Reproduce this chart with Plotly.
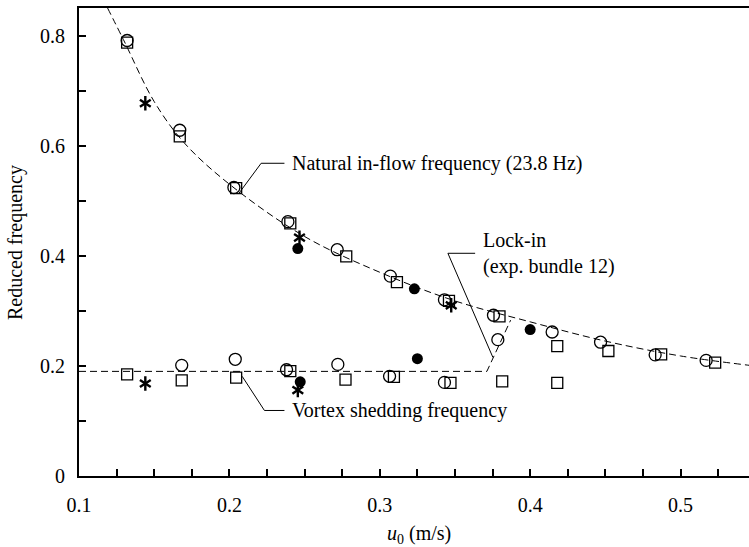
import plotly.graph_objects as go

# ---- data ----
circ_x = [0.132, 0.167, 0.203, 0.2389, 0.2717, 0.307, 0.343, 0.3756, 0.3785, 0.4146, 0.4468, 0.4831, 0.517,
          0.1683, 0.2039, 0.238, 0.2721, 0.3065, 0.343]
circ_y = [0.791, 0.628, 0.524, 0.462, 0.411, 0.363, 0.320, 0.292, 0.2476, 0.2615, 0.243, 0.220, 0.210,
          0.201, 0.212, 0.193, 0.2027, 0.181, 0.170]

sq_x = [0.132, 0.167, 0.2045, 0.2405, 0.2777, 0.3114, 0.346, 0.3796, 0.418, 0.452, 0.4871, 0.523,
        0.132, 0.1683, 0.2045, 0.2405, 0.2772, 0.3094, 0.347, 0.3814, 0.418]
sq_y = [0.787, 0.617, 0.523, 0.459, 0.399, 0.352, 0.318, 0.290, 0.236, 0.227, 0.221, 0.206,
        0.1845, 0.1736, 0.1785, 0.1906, 0.175, 0.180, 0.169, 0.172, 0.169]

fill_x = [0.2455, 0.2471, 0.323, 0.325, 0.400]
fill_y = [0.413, 0.171, 0.340, 0.213, 0.266]

ast_x = [0.1441, 0.1441, 0.2466, 0.2455, 0.3475]
ast_y = [0.677, 0.168, 0.433, 0.156, 0.310]

# natural in-flow frequency curve
nat_x = [0.119, 0.13, 0.15, 0.17, 0.20, 0.25, 0.30, 0.35, 0.40, 0.45, 0.50, 0.5458]
nat_y = [0.85, 0.79, 0.68, 0.605, 0.53, 0.435, 0.37, 0.318, 0.28, 0.245, 0.218, 0.201]

# vortex shedding / lock-in dashed line
vs_x = [0.10, 0.3712, 0.387]
vs_y = [0.19, 0.19, 0.283]

# leader lines for the labels
lead_nat_x = [0.2062, 0.2211, 0.2366]
lead_nat_y = [0.513, 0.568, 0.568]
lead_lock_x = [0.3752, 0.3453, 0.3634]
lead_lock_y = [0.2155, 0.4045, 0.4045]
lead_vs_x = [0.2085, 0.2233, 0.2366]
lead_vs_y = [0.181, 0.119, 0.119]

FONT = "Liberation Serif"

fig = go.Figure()
dash = "7px,4px"
fig.add_trace(go.Scatter(x=nat_x, y=nat_y, mode="lines", line=dict(color="black", width=1, dash=dash, shape="spline"), showlegend=False))
fig.add_trace(go.Scatter(x=vs_x, y=vs_y, mode="lines", line=dict(color="black", width=1, dash=dash), showlegend=False))
for lx, ly in [(lead_nat_x, lead_nat_y), (lead_lock_x, lead_lock_y), (lead_vs_x, lead_vs_y)]:
    fig.add_trace(go.Scatter(x=lx, y=ly, mode="lines", line=dict(color="black", width=1), showlegend=False))

fig.add_trace(go.Scatter(x=circ_x, y=circ_y, mode="markers",
                         marker=dict(symbol="circle-open", size=12, color="black", line=dict(width=1.3)), showlegend=False))
fig.add_trace(go.Scatter(x=sq_x, y=sq_y, mode="markers",
                         marker=dict(symbol="square-open", size=11, color="black", line=dict(width=1.3)), showlegend=False))
fig.add_trace(go.Scatter(x=fill_x, y=fill_y, mode="markers",
                         marker=dict(symbol="circle", size=11, color="black"), showlegend=False))
# six-armed asterisk built from two Y symbols
for sym in ["y-up-open", "y-down-open"]:
    fig.add_trace(go.Scatter(x=ast_x, y=ast_y, mode="markers",
                             marker=dict(symbol=sym, size=9, color="black", line=dict(width=2.4, color="black")),
                             showlegend=False))

ann = dict(font=dict(family=FONT, size=20, color="black"), showarrow=False, xanchor="left", xshift=6)
fig.add_annotation(x=0.2366, y=0.568, text="Natural in-flow frequency (23.8 Hz)", yanchor="middle", **ann)
fig.add_annotation(x=0.3634, y=0.4045, text="Lock-in<br>(exp. bundle 12)", yanchor="middle", align="left", **ann)
fig.add_annotation(x=0.2366, y=0.119, text="Vortex shedding frequency", yanchor="middle", **ann)

fig.add_annotation(xref="paper", yref="paper", x=(419 - 79) / 670, y=-(534 - 476) / 468,
                   text="<i>u</i><sub>0</sub> (m/s)", showarrow=False, xanchor="center", yanchor="middle",
                   font=dict(family=FONT, size=20, color="black"))
fig.add_annotation(xref="paper", yref="paper", x=-(79 - 15) / 670, y=(476 - 243) / 468,
                   text="Reduced frequency", textangle=-90, showarrow=False, xanchor="center", yanchor="middle",
                   font=dict(family=FONT, size=20, color="black"))

fig.update_xaxes(range=[0.1, 0.5455], tickvals=[0.1, 0.2, 0.3, 0.4, 0.5], ticktext=["0.1", "0.2", "0.3", "0.4", "0.5"],
                 showline=True, linecolor="black", linewidth=2, mirror=True, ticks="inside", ticklen=7, tickwidth=2,
                 tickcolor="black", minor=dict(dtick=0.025, ticks="inside", ticklen=7, tickwidth=2, tickcolor="black", showgrid=False),
                 showgrid=False, zeroline=False, tickfont=dict(family=FONT, size=20, color="black"), ticklabelstandoff=10)
fig.update_yaxes(range=[0, 0.85], tickvals=[0, 0.2, 0.4, 0.6, 0.8], ticktext=["0", "0.2", "0.4", "0.6", "0.8"],
                 showline=True, linecolor="black", linewidth=2, ticks="inside", ticklen=7, tickwidth=2, tickcolor="black",
                 minor=dict(dtick=0.1, ticks="inside", ticklen=7, tickwidth=2, tickcolor="black", showgrid=False),
                 showgrid=False, zeroline=False, tickfont=dict(family=FONT, size=20, color="black"), ticklabelstandoff=8)

fig.update_layout(width=749, height=547, margin=dict(l=79, r=0, t=8, b=71),
                  plot_bgcolor="white", paper_bgcolor="white", font=dict(family=FONT))
fig.write_html("out.html")
